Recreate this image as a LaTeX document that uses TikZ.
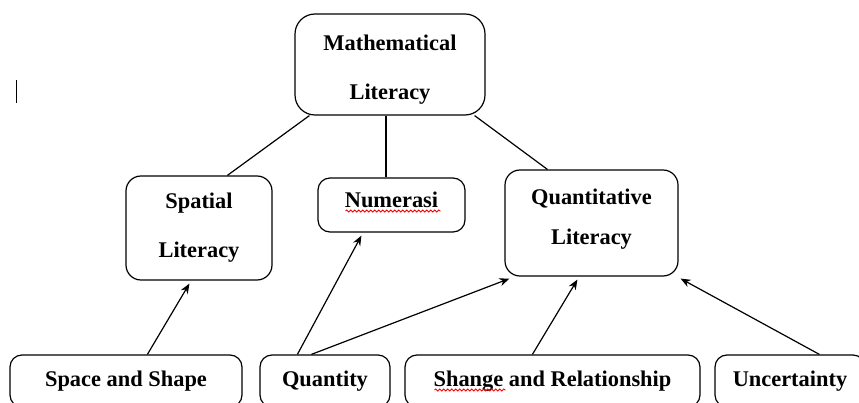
\documentclass[tikz,border=0pt]{standalone}
\usepackage{fontspec}
\setmainfont{Liberation Serif}
\usetikzlibrary{positioning, arrows.meta, calc, decorations.pathmorphing}
\tikzset{
	>={Stealth[length=10pt, width=8pt]},
	litbox/.style={draw, line width=1.2pt, rounded corners=15pt, inner sep=0pt, align=center, font=\bfseries\fontsize{22.4}{49}\selectfont},
	topicbox/.style={litbox, rounded corners=12pt, minimum height=52pt},
	link/.style={line width=1.2pt},
	spell/.style={draw=red, line width=0.8pt, decorate, decoration={snake, segment length=4pt, amplitude=1.1pt}},
}

\begin{document}
\begin{tikzpicture}[x=1pt, y=-1pt]
	\clip (0,0) rectangle (859,403);
	\node[litbox, rounded corners=20pt, minimum width=190pt, minimum height=101pt] (MATH) at (390,64.5) {\rule{0pt}{25pt}Mathematical\\Literacy};
	\node[litbox, minimum width=146pt, minimum height=104pt] (SPATIAL) at (199,228) {Spatial\\Literacy};
	\node[litbox, rounded corners=12pt, text depth=10pt, minimum width=147pt, minimum height=54pt] (NUMERASI) at (391.5,205) {Numerasi};
	\node[litbox, font=\bfseries\fontsize{22.4}{40}\selectfont, text depth=13pt, minimum width=173pt, minimum height=106pt] (QUANT) at (591.5,223) {Quantitative\\Literacy};
	
	\node[topicbox, minimum width=232pt] (SPACE) at (126,381) {Space and Shape};
	\node[topicbox, minimum width=130pt] (QUANTITY) at (325,381) {Quantity};
	\node[topicbox, minimum width=295pt] (SHANGE) at (552.5,381) {Shange and Relationship};
	\node[topicbox, minimum width=150pt] (UNCERT) at (790,381) {Uncertainty};
	
	\draw[link] ([xshift=15pt]MATH.south west) -- ([xshift=102pt]SPATIAL.north west);
	\draw[link] ([xshift=-4pt]MATH.south) -- ([xshift=-4pt]MATH.south |- NUMERASI.north);
	\draw[link] ([xshift=-11pt]MATH.south east) -- ([xshift=43pt]QUANT.north west);
	
	\draw[link, ->] ([xshift=138pt]SPACE.north west) -- ([xshift=64pt, yshift=-3pt]SPATIAL.south west);
	\draw[link, ->] ([xshift=38pt]QUANTITY.north west) -- ([xshift=44pt, yshift=-3pt]NUMERASI.south west);
	\draw[link, ->] ([xshift=52pt]QUANTITY.north west) -- ([xshift=5pt, yshift=-2pt]QUANT.south west);
	\draw[link, ->] ([xshift=128pt]SHANGE.north west) -- ([xshift=73pt, yshift=-3pt]QUANT.south west);
	\draw[link, ->] ([xshift=105pt]UNCERT.north west) -- ([xshift=2pt, yshift=-2pt]QUANT.south east);
	
	\draw[spell] ([xshift=-46pt, yshift=-6pt]NUMERASI.center) -- ++(95,0);
	\draw[spell] ([xshift=-118pt, yshift=-9pt]SHANGE.center) -- ++(71,0);
	\draw[line width=1pt] (16,80) -- (16,103);
\end{tikzpicture}
\end{document}
